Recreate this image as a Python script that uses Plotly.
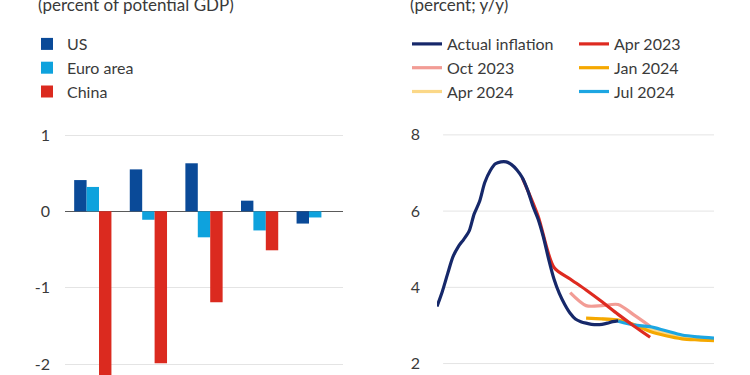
import pandas as pd
import plotly.graph_objects as go

# ---------------- data: left panel (percent of potential GDP) ----------------
bar_categories = ["2023", "2024", "2025", "2026", "2027"]
us_values = [0.41, 0.55, 0.63, 0.14, -0.16]
euro_values = [0.32, -0.11, -0.34, -0.25, -0.08]
china_values = [-2.6, -1.99, -1.19, -0.51, 0.0]
left_ticks = [-2, -1, 0, 1]
left_tick_labels = ["-2", "-1", "0", "1"]

# ---------------- data: right panel (percent; y/y) ----------------
actual_dates = pd.date_range("2021-08-01", periods=35, freq="MS")
actual_values = [3.50, 3.90, 4.36, 4.81, 5.07, 5.26, 5.48, 5.92, 6.25, 6.75,
                 7.06, 7.24, 7.29, 7.29, 7.22, 7.08, 6.88, 6.55, 6.12, 5.80,
                 5.32, 4.74, 4.21, 3.84, 3.55, 3.32, 3.17, 3.10, 3.06, 3.03,
                 3.02, 3.03, 3.06, 3.10, 3.12]

apr2023_dates = ["2022-12-01", "2023-03-01", "2023-06-01", "2023-09-01", "2023-12-01",
                 "2024-03-01", "2024-06-01", "2024-09-01", "2024-12-01"]
apr2023_values = [6.88, 5.88, 4.52, 4.22, 3.93, 3.62, 3.29, 2.98, 2.69]

oct2023_dates = ["2023-09-01", "2023-12-01", "2024-03-01", "2024-06-01", "2024-09-01", "2024-12-01"]
oct2023_values = [3.86, 3.52, 3.52, 3.55, 3.27, 2.98]

jan2024_dates = ["2023-12-01", "2024-03-01", "2024-06-01", "2024-09-01", "2024-12-01",
                 "2025-03-01", "2025-06-01", "2025-09-01", "2025-12-01"]
jan2024_values = [3.19, 3.17, 3.14, 3.02, 2.84, 2.73, 2.65, 2.62, 2.60]

apr2024_dates = ["2024-03-01", "2024-06-01", "2024-09-01", "2024-12-01",
                 "2025-03-01", "2025-06-01", "2025-09-01", "2025-12-01"]
apr2024_values = [3.17, 3.14, 3.02, 2.91, 2.79, 2.70, 2.65, 2.63]

jul2024_dates = ["2024-06-01", "2024-09-01", "2024-12-01", "2025-03-01",
                 "2025-06-01", "2025-09-01", "2025-12-01"]
jul2024_values = [3.11, 3.01, 2.97, 2.86, 2.75, 2.70, 2.67]
right_ticks = [2, 4, 6, 8]

# ---------------- styles ----------------
FONT = "Lato"
TXT = "#3a3a3a"
GRID = "#e4e4e4"
C_US, C_EA, C_CN = "#0a4a98", "#0ea2dd", "#db2a1f"
C_ACT, C_A23, C_O23, C_J24, C_A24, C_J24b = "#16286a", "#de2a20", "#f29c95", "#f5a800", "#fbd888", "#1da6e2"

fig = go.Figure()

for name, vals, col in [("US", us_values, C_US), ("Euro area", euro_values, C_EA), ("China", china_values, C_CN)]:
    fig.add_trace(go.Bar(x=bar_categories, y=vals, name=name, marker_color=col,
                         marker_line_width=0, xaxis="x", yaxis="y", legend="legend"))

line_specs = [
    ("Apr 2024", apr2024_dates, apr2024_values, C_A24, "legend2", 3),
    ("Oct 2023", oct2023_dates, oct2023_values, C_O23, "legend2", 2),
    ("Jan 2024", jan2024_dates, jan2024_values, C_J24, "legend3", 2),
    ("Jul 2024", jul2024_dates, jul2024_values, C_J24b, "legend3", 3),
    ("Apr 2023", apr2023_dates, apr2023_values, C_A23, "legend3", 1),
    ("Actual inflation", list(actual_dates), actual_values, C_ACT, "legend2", 1),
]
for name, xs, ys, col, leg, rank in line_specs:
    fig.add_trace(go.Scatter(x=xs, y=ys, name=name, mode="lines",
                             line=dict(color=col, width=3.2, shape="spline", smoothing=0.8),
                             xaxis="x2", yaxis="y2", legend=leg, legendrank=rank))

# gridlines for the right panel (start slightly inside the plot area, as in the original)
for v in right_ticks:
    fig.add_shape(type="line", xref="x2 domain", yref="y2", x0=0.022, x1=1.0, y0=v, y1=v,
                  line=dict(color=GRID, width=1), layer="below")

legend_common = dict(font=dict(family=FONT, size=16, color=TXT), bgcolor="rgba(0,0,0,0)",
                     orientation="v", xanchor="left", yanchor="top", traceorder="normal",
                     itemclick=False, itemdoubleclick=False)

fig.update_layout(
    width=750, height=375,
    margin=dict(l=0, r=0, t=0, b=0),
    paper_bgcolor="white", plot_bgcolor="white",
    font=dict(family=FONT, color=TXT, size=16),
    barmode="group", bargap=0.33, bargroupgap=0,
    showlegend=True,
    legend=dict(x=27 / 750, y=1 - 27 / 375, **legend_common),
    legend2=dict(x=407 / 750, y=1 - 27 / 375, **legend_common),
    legend3=dict(x=574 / 750, y=1 - 27 / 375, **legend_common),
    xaxis=dict(domain=[65 / 750, 343 / 750], showticklabels=False, showgrid=False,
               zeroline=False, showline=False, ticks=""),
    yaxis=dict(domain=[0, 0.68], range=[-2.144, 1.197], tickvals=left_ticks,
               ticktext=left_tick_labels,
               showgrid=True, gridcolor=GRID, gridwidth=1,
               zeroline=True, zerolinecolor="#5a5a5a", zerolinewidth=1.2,
               showline=False, ticks="", ticklabelstandoff=14,
               tickfont=dict(family=FONT, size=16, color=TXT)),
    xaxis2=dict(domain=[437 / 750, 714 / 750], type="date",
                range=["2021-08-01", "2025-12-01"], showticklabels=False,
                showgrid=False, zeroline=False, showline=False, ticks=""),
    yaxis2=dict(domain=[0, 0.68], range=[1.70, 8.39], tickvals=right_ticks,
                showgrid=False, zeroline=False, showline=False, ticks="",
                ticklabelstandoff=16, anchor="x2",
                tickfont=dict(family=FONT, size=16, color=TXT)),
    annotations=[
        dict(text="(percent of potential GDP)", xref="paper", yref="paper",
             x=36 / 750, y=1 - 4.5 / 375, xanchor="left", yanchor="middle",
             showarrow=False, font=dict(family=FONT, size=17, color=TXT)),
        dict(text="(percent; y/y)", xref="paper", yref="paper",
             x=408 / 750, y=1 - 4.5 / 375, xanchor="left", yanchor="middle",
             showarrow=False, font=dict(family=FONT, size=17, color=TXT)),
    ],
)

fig.write_html("out.html", config={"displayModeBar": False},
               post_script="document.body.style.margin='0px';")
